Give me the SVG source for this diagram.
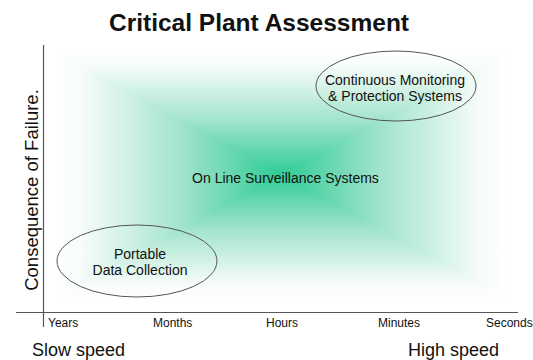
<svg xmlns="http://www.w3.org/2000/svg" width="533" height="360" viewBox="0 0 533 360">
  <style>
    text { font-family: "Liberation Sans", Arial, sans-serif; fill: #111; }
    .title { font-size: 24.5px; font-weight: bold; }
    .tick { font-size: 12px; }
    .big { font-size: 18px; }
    .lbl { font-size: 14px; text-anchor: middle; }
    .axis { stroke: #555; stroke-width: 1.2; fill: none; }
    .node { stroke: #555; stroke-width: 1; fill: none; }
    .s0 { stop-color: #ffffff; }
    .s1 { stop-color: #f6fcf9; }
    .s2 { stop-color: #a3e4cc; }
    .s3 { stop-color: #2fcc96; }
  </style>
  <defs>
    <linearGradient id="gTop" gradientUnits="userSpaceOnUse" x1="0" y1="52" x2="0" y2="175">
      <stop offset="0" class="s0"/>
      <stop offset="0.12" class="s1"/>
      <stop offset="0.55" class="s2"/>
      <stop offset="1" class="s3"/>
    </linearGradient>
    <linearGradient id="gBot" gradientUnits="userSpaceOnUse" x1="0" y1="298" x2="0" y2="175">
      <stop offset="0" class="s0"/>
      <stop offset="0.12" class="s1"/>
      <stop offset="0.55" class="s2"/>
      <stop offset="1" class="s3"/>
    </linearGradient>
    <linearGradient id="gLeft" gradientUnits="userSpaceOnUse" x1="55" y1="0" x2="281" y2="0">
      <stop offset="0" class="s0"/>
      <stop offset="0.12" class="s1"/>
      <stop offset="0.55" class="s2"/>
      <stop offset="1" class="s3"/>
    </linearGradient>
    <linearGradient id="gRight" gradientUnits="userSpaceOnUse" x1="507" y1="0" x2="281" y2="0">
      <stop offset="0" class="s0"/>
      <stop offset="0.12" class="s1"/>
      <stop offset="0.55" class="s2"/>
      <stop offset="1" class="s3"/>
    </linearGradient>
    <clipPath id="field">
      <rect x="55" y="52" width="452" height="246"/>
    </clipPath>
  </defs>

  <rect width="533" height="360" fill="#ffffff"/>

  <g id="background" clip-path="url(#field)">
    <polygon points="55,40 55,310 284,175" fill="url(#gLeft)"/>
    <polygon points="507,40 507,310 278,175" fill="url(#gRight)"/>
    <polygon points="55,52 507,52 281,175" fill="url(#gTop)"/>
    <polygon points="55,298 507,298 281,175" fill="url(#gBot)"/>
  </g>

  <text class="title" x="259" y="31" text-anchor="middle">Critical Plant Assessment</text>

  <g id="axes">
    <line class="axis" x1="43.5" y1="45" x2="43.5" y2="327"/>
    <line class="axis" x1="16" y1="312.5" x2="518" y2="312.5"/>
  </g>

  <g id="connectors"></g>

  <text class="big" transform="translate(38,190) rotate(-90)" text-anchor="middle" style="font-size:18.5px">Consequence of Failure.</text>

  <g id="ticks">
    <text class="tick" x="48" y="327">Years</text>
    <text class="tick" x="153" y="327">Months</text>
    <text class="tick" x="266" y="327">Hours</text>
    <text class="tick" x="378" y="327">Minutes</text>
    <text class="tick" x="486" y="327">Seconds</text>
  </g>

  <text class="big" x="32" y="356">Slow speed</text>
  <text class="big" x="408" y="356">High speed</text>

  <g id="node-continuous">
    <ellipse class="node" cx="396" cy="86" rx="80" ry="35"/>
    <text class="lbl" x="395" y="85">Continuous Monitoring</text>
    <text class="lbl" x="395" y="101">&amp; Protection Systems</text>
  </g>

  <g id="node-online">
    <text class="lbl" x="285.5" y="183">On Line Surveillance Systems</text>
  </g>

  <g id="node-portable">
    <ellipse class="node" cx="137" cy="261" rx="80" ry="36"/>
    <text class="lbl" x="140" y="259">Portable</text>
    <text class="lbl" x="140" y="275">Data Collection</text>
  </g>
</svg>
